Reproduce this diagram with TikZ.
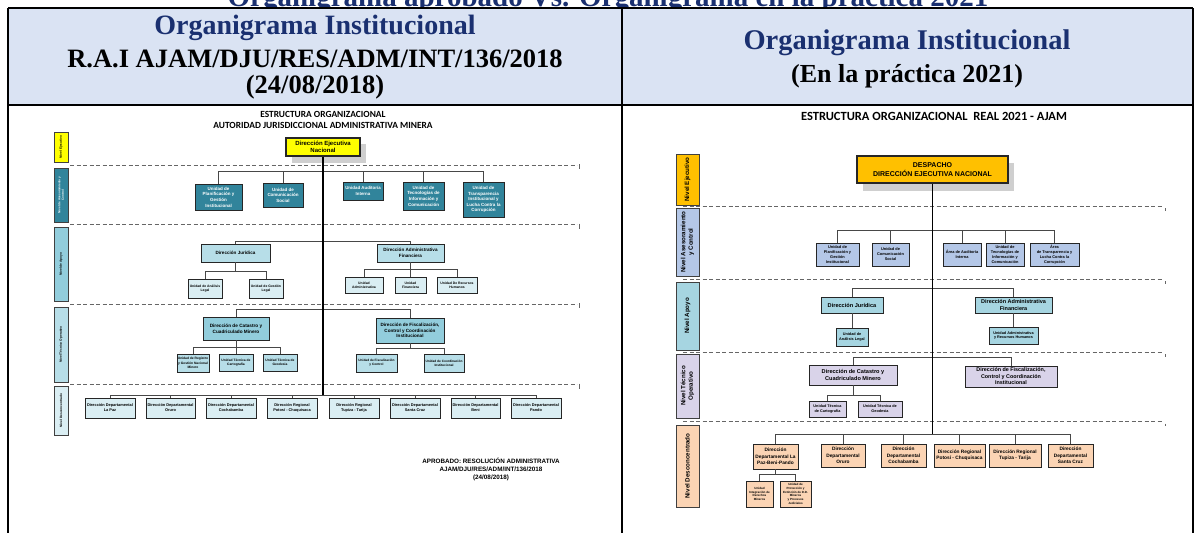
\documentclass[tikz,border=0pt]{standalone}
\usepackage{fontspec}
\setmainfont{Liberation Serif}
\newfontfamily\arialf{Liberation Sans}
\newfontfamily\calibf{Carlito}
\definecolor{hdrfill}{HTML}{DAE3F3}
\definecolor{navyt}{HTML}{1A3070}
\definecolor{lyel}{HTML}{FFFF00}
\definecolor{lteal}{HTML}{31849B}
\definecolor{lapo}{HTML}{92CDDC}
\definecolor{lapob}{HTML}{B7DEE8}
\definecolor{lsub}{HTML}{DAEEF3}
\definecolor{rorg}{HTML}{FFC000}
\definecolor{rase}{HTML}{B4C7E7}
\definecolor{rapo}{HTML}{A6D5E1}
\definecolor{rtec}{HTML}{D9D3E9}
\definecolor{rdes}{HTML}{FBD4B4}
\definecolor{shad}{HTML}{CFCFCF}
\newcommand{\fsz}[2]{\arialf\bfseries\fontsize{#1}{#2}\selectfont}
\newcommand{\bx}[7]{\node[bxb,#6,minimum width={#4-#2},minimum height={#5-#3}] (#1) at ({(#2+#4)/2},{(#3+#5)/2}) {#7};}
\newcommand{\lvbar}[7]{\node[lvb,#6,minimum width={#5-#3},minimum height={#4-#2}] (#1) at ({(#2+#4)/2},{(#3+#5)/2}) {#7};}
\tikzset{
 bxb/.style={rectangle,draw=black!85,line width=0.9pt,inner sep=0.3pt,align=center},
 lvb/.style={rectangle,draw=black!75,line width=0.8pt,inner sep=0pt,align=center,rotate=90},
 conn/.style={draw=black!72,line width=1pt},
 mainl/.style={draw=black,line width=1.6pt},
 dashl/.style={draw=black!60,line width=0.9pt,dash pattern=on 4pt off 2.5pt},
 tickm/.style={draw=black!60,line width=0.8pt},
 tbl/.style={draw=black,line width=2.4pt},
 shd/.style={fill=shad,draw=none},
}
\begin{document}
\begin{tikzpicture}[x=1pt,y=-1pt]
\useasboundingbox (0,0) rectangle (1195,533);
\clip (0,0) rectangle (1195,533);
\fill[white] (0,0) rectangle (1195,533);
% ---------- banner and header ----------
\node[anchor=base,text=navyt,font=\bfseries\fontsize{29}{32}\selectfont,inner sep=0] (banner) at (608,6) {Organigrama aprobado Vs. Organigrama en la práctica 2021};
\fill[hdrfill] (8,8) rectangle (1193,105);
\node[text=navyt,font=\bfseries\fontsize{28}{30}\selectfont] (hl1) at (315,28) {Organigrama Institucional};
\node[font=\bfseries\fontsize{26.5}{30}\selectfont] (hl2) at (315,59) {R.A.I AJAM/DJU/RES/ADM/INT/136/2018};
\node[font=\bfseries\fontsize{26.5}{30}\selectfont] (hl3) at (315,87) {(24/08/2018)};
\node[text=navyt,font=\bfseries\fontsize{28.5}{30}\selectfont] (hr1) at (907,43) {Organigrama Institucional};
\node[font=\bfseries\fontsize{26}{30}\selectfont] (hr2) at (907,76) {(En la práctica 2021)};
\draw[tbl] (8,8) -- (1193,8);
\draw[tbl] (8,105) -- (1193,105);
\draw[tbl] (8,8) -- (8,540);
\draw[tbl] (622,8) -- (622,540);
\draw[tbl] (1193,8) -- (1193,540);
% ================= LEFT CHART =================
\node[font=\calibf\bfseries\fontsize{9.4}{11}\selectfont,align=center] (lt) at (323,119.5) {ESTRUCTURA ORGANIZACIONAL\\AUTORIDAD JURISDICCIONAL ADMINISTRATIVA MINERA};
\foreach \yy in {165,224.5,304,384.5} {\draw[dashl] (70,\yy) -- (577,\yy); \draw[tickm] (579,\yy-1) -- (579,\yy+4);}
\lvbar{lv1}{54}{132}{68}{162}{fill=lyel,font=\fsz{3.2}{3.8}}{Nivel Ejecutivo}
\lvbar{lv2}{54}{168}{68}{222}{fill=lteal,text=white,font=\fsz{3}{3.6}}{Nivel de Asesoramiento y\\Control}
\lvbar{lv3}{54}{227}{68}{301}{fill=lapo,font=\fsz{3.2}{3.8}}{Nivel de Apoyo}
\lvbar{lv4}{54}{307}{68}{382}{fill=lapob,font=\fsz{3.2}{3.8}}{Nivel Técnico Operativo}
\lvbar{lv5}{54}{386}{68}{435}{fill=lsub,font=\fsz{3.2}{3.8}}{Nivel Desconcentrado}
\fill[shd] (292,144) rectangle (366,163);
\bx{dej}{286}{138}{360}{156}{fill=lyel,line width=1.2pt,font=\fsz{6}{7.5}}{Dirección Ejecutiva\\Nacional}
% asesoramiento
\bx{la1}{195}{184}{242}{210}{fill=lteal,text=white,font=\fsz{4.5}{5.6}}{Unidad de\\Planificación y\\Gestión\\Institucional}
\bx{la2}{263}{183}{303}{207}{fill=lteal,text=white,font=\fsz{4.5}{5.6}}{Unidad de\\Comunicación\\Social}
\bx{la3}{343}{182}{383}{200}{fill=lteal,text=white,font=\fsz{4.4}{5.6}}{Unidad Auditoría\\Interna}
\bx{la4}{403}{182}{444}{210}{fill=lteal,text=white,font=\fsz{4.5}{5.6}}{Unidad de\\Tecnologías de\\Información y\\Comunicación}
\bx{la5}{463}{182}{504}{217}{fill=lteal,text=white,font=\fsz{4.5}{5.6}}{Unidad de\\Transparencia\\Institucional y\\Lucha Contra la\\Corrupción}
% apoyo
\bx{lj}{201}{244}{270}{262}{fill=lapob,font=\fsz{4.6}{5.8}}{Dirección Jurídica}
\bx{lf}{377}{244}{444}{262}{fill=lapob,font=\fsz{4.6}{5.8}}{Dirección Administrativa\\Financiera}
\bx{lj1}{188}{279}{222}{298}{fill=lsub,font=\fsz{3.4}{4.3}}{Unidad de Análisis\\Legal}
\bx{lj2}{249}{279}{283}{298}{fill=lsub,font=\fsz{3.4}{4.3}}{Unidad de Gestión\\Legal}
\bx{lf1}{345}{277}{383}{293}{fill=lsub,font=\fsz{3.4}{4.3}}{Unidad\\Administrativa}
\bx{lf2}{395}{277}{426}{293}{fill=lsub,font=\fsz{3.4}{4.3}}{Unidad\\Financiera}
\bx{lf3}{437}{277}{477}{293}{fill=lsub,font=\fsz{3.4}{4.3}}{Unidad De Recursos\\Humanos}
% tecnico operativo
\bx{lc}{203}{317}{269}{340}{fill=lapo,font=\fsz{4.7}{5.8}}{Dirección de Catastro y\\Cuadriculado Minero}
\bx{lfi}{376}{318}{444}{343}{fill=lapo,font=\fsz{4.6}{5.8}}{Dirección de Fiscalización,\\Control y Coordinación\\Institucional}
\bx{lc1}{177}{354}{209}{372}{fill=lapob,font=\fsz{3.3}{4.2}}{Unidad de Registro\\y Gestión Nacional\\Minero}
\bx{lc2}{219}{354}{253}{371}{fill=lapob,font=\fsz{3.3}{4.2}}{Unidad Técnica de\\Cartografía}
\bx{lc3}{263}{354}{297}{371}{fill=lapob,font=\fsz{3.3}{4.2}}{Unidad Técnica de\\Geodesia}
\bx{lfi1}{356}{354}{397}{372}{fill=lapob,font=\fsz{3.2}{4.2}}{Unidad de Fiscalización\\y Control}
\bx{lfi2}{424}{354}{464}{372}{fill=lapob,font=\fsz{3.2}{4.2}}{Unidad de Coordinación\\Institucional}
% desconcentrado
\bx{ld1}{85}{398}{135}{418}{fill=lsub,font=\fsz{3.9}{5}}{Dirección Departamental\\La Paz}
\bx{ld2}{146}{398}{195}{418}{fill=lsub,font=\fsz{3.9}{5}}{Dirección Departamental\\Oruro}
\bx{ld3}{206}{398}{256}{418}{fill=lsub,font=\fsz{3.9}{5}}{Dirección Departamental\\Cochabamba}
\bx{ld4}{267}{398}{317}{418}{fill=lsub,font=\fsz{3.9}{5}}{Dirección Regional\\Potosí - Chuquisaca}
\bx{ld5}{329}{398}{379}{418}{fill=lsub,font=\fsz{3.9}{5}}{Dirección Regional\\Tupiza - Tarija}
\bx{ld6}{390}{398}{440}{418}{fill=lsub,font=\fsz{3.9}{5}}{Dirección Departamental\\Santa Cruz}
\bx{ld7}{451}{398}{500}{418}{fill=lsub,font=\fsz{3.9}{5}}{Dirección Departamental\\Beni}
\bx{ld8}{511}{398}{561}{418}{fill=lsub,font=\fsz{3.9}{5}}{Dirección Departamental\\Pando}
\node[font=\fsz{6.3}{8},align=center] (lfoot) at (491,469) {APROBADO: RESOLUCIÓN ADMINISTRATIVA\\AJAM/DJU/RES/ADM/INT/136/2018\\(24/08/2018)};
% left connectors
\coordinate (lbA) at (0,171);
\coordinate (lbB) at (0,241);
\coordinate (lbBj) at (0,271);
\coordinate (lbBf) at (0,269);
\coordinate (lbC) at (0,309);
\coordinate (lbCc) at (0,347);
\coordinate (lbCf) at (0,348);
\coordinate (lbD) at (0,395);
\draw[conn] (la1.north) |- (la5.north |- lbA) -- (la5.north);
\foreach \n in {la2,la3,la4} {\draw[conn] (\n.north) -- (\n.north |- lbA);}
\draw[conn] (lj.north) |- (lf.north |- lbB) -- (lf.north);
\draw[conn] (lj.south) -- (lj.south |- lbBj);
\draw[conn] (lj1.north) |- (lj2.north |- lbBj) -- (lj2.north);
\draw[conn] (lf.south) -- (lf.south |- lbBf);
\draw[conn] (lf1.north) |- (lf3.north |- lbBf) -- (lf3.north);
\draw[conn] (lf2.north) -- (lf2.north |- lbBf);
\draw[conn] (lc.north) |- (lfi.north |- lbC) -- (lfi.north);
\draw[conn] (lc.south) -- (lc.south |- lbCc);
\draw[conn] (lc1.north) |- (lc3.north |- lbCc) -- (lc3.north);
\draw[conn] (lc2.north) -- (lc2.north |- lbCc);
\draw[conn] (lfi.south) -- (lfi.south |- lbCf);
\draw[conn] (lfi1.north) |- (lfi2.north |- lbCf) -- (lfi2.north);
\draw[conn] (ld1.north) |- (ld8.north |- lbD) -- (ld8.north);
\foreach \n in {ld2,ld3,ld4,ld5,ld6,ld7} {\draw[conn] (\n.north) -- (\n.north |- lbD);}
\draw[mainl] (dej.south) -- (dej.south |- lbD);
% ================= RIGHT CHART =================
\node[font=\calibf\bfseries\fontsize{12.5}{14}\selectfont] (rt) at (934,116) {ESTRUCTURA ORGANIZACIONAL\ \ REAL 2021 - AJAM};
\foreach \yy in {206,279,352,421.5} {\draw[dashl] (683,\yy) -- (1163,\yy); \draw[tickm] (1165,\yy+2) -- (1165,\yy+4.5);}
\lvbar{rv1}{676}{154}{699}{205}{fill=rorg,font=\fsz{6.2}{7.5}}{Nivel Ejecutivo}
\lvbar{rv2}{676}{208}{699}{276}{fill=rase,font=\fsz{6.2}{7.5}}{Nivel Asesoramiento\\y Control}
\lvbar{rv3}{676}{282}{699}{350}{fill=rapo,font=\fsz{6.2}{7.5}}{Nivel Apoyo}
\lvbar{rv4}{676}{354}{699}{418}{fill=rtec,font=\fsz{6.2}{7.5}}{Nivel Técnico\\Operativo}
\lvbar{rv5}{676}{425}{699}{507}{fill=rdes,font=\fsz{6.2}{7.5}}{Nivel Desconcentrado}
\fill[shd] (863,163) rectangle (1014,191);
\bx{desp}{857}{156}{1008}{183}{fill=rorg,line width=1.5pt,font=\fsz{7}{8.5}}{DESPACHO\\DIRECCIÓN EJECUTIVA NACIONAL}
\bx{ra1}{816}{243}{859}{266}{fill=rase,font=\fsz{3.9}{4.9}}{Unidad de\\Planificación y\\Gestión\\Institucional}
\bx{ra2}{872}{243}{909}{266}{fill=rase,font=\fsz{3.9}{4.9}}{Unidad de\\Comunicación\\Social}
\bx{ra3}{943}{243}{981}{266}{fill=rase,font=\fsz{3.9}{4.9}}{Área de Auditoría\\Interna}
\bx{ra4}{986}{243}{1024}{266}{fill=rase,font=\fsz{3.9}{4.9}}{Unidad de\\Tecnologías de\\Información y\\Comunicación}
\bx{ra5}{1030}{243}{1079}{266}{fill=rase,font=\fsz{3.9}{4.9}}{Área\\de Transparencia y\\Lucha Contra la\\Corrupción}
\bx{rj}{821}{297}{883}{313}{fill=rapo,font=\fsz{5.6}{7}}{Dirección Jurídica}
\bx{rf}{975}{297}{1052}{313}{fill=rapo,font=\fsz{5.5}{7}}{Dirección Administrativa\\Financiera}
\bx{rj1}{836}{328}{868}{346}{fill=rapo,font=\fsz{3.8}{4.8}}{Unidad de\\Análisis Legal}
\bx{rf1}{989}{327}{1038}{344}{fill=rapo,font=\fsz{3.8}{4.8}}{Unidad Administrativa\\y Recursos Humanos}
\bx{rc}{809}{365}{897}{385}{fill=rtec,font=\fsz{5.6}{7}}{Dirección de Catastro y\\Cuadriculado Minero}
\bx{rfi}{965}{366}{1057}{387}{fill=rtec,font=\fsz{5.4}{6.5}}{Dirección de Fiscalización,\\Control y Coordinación\\Institucional}
\bx{rc1}{809}{401}{846}{417}{fill=rtec,font=\fsz{3.8}{4.8}}{Unidad Técnica\\de Cartografía}
\bx{rc2}{858}{401}{902}{417}{fill=rtec,font=\fsz{3.8}{4.8}}{Unidad Técnica de\\Geodesia}
\bx{rd1}{753}{444}{798}{469}{fill=rdes,font=\fsz{4.8}{6.3}}{Dirección\\Departamental La\\Paz-Beni-Pando}
\bx{rd2}{821}{444}{865}{467}{fill=rdes,font=\fsz{4.8}{6.3}}{Dirección\\Departamental\\Oruro}
\bx{rd3}{881}{444}{926}{467}{fill=rdes,font=\fsz{4.8}{6.3}}{Dirección\\Departamental\\Cochabamba}
\bx{rd4}{934}{444}{985}{467}{fill=rdes,font=\fsz{4.8}{6.3}}{Dirección Regional\\Potosí - Chuquisaca}
\bx{rd5}{989}{444}{1041}{467}{fill=rdes,font=\fsz{4.8}{6.3}}{Dirección Regional\\Tupiza - Tarija}
\bx{rd6}{1048}{444}{1093}{467}{fill=rdes,font=\fsz{4.8}{6.3}}{Dirección\\Departamental\\Santa Cruz}
\bx{rd1a}{746}{481}{773}{507}{fill=rdes,font=\fsz{3}{3.8}}{Unidad\\Integración de\\Derechos\\Mineros}
\bx{rd1b}{780}{481}{811}{507}{fill=rdes,font=\fsz{3}{3.8}}{Unidad de\\Protección y\\Extinción de D.D.\\Mineros\\y Procesos\\Judiciales}
% right connectors
\coordinate (rbA) at (0,230);
\coordinate (rbB) at (0,288);
\coordinate (rbC) at (0,357);
\coordinate (rbCc) at (0,395);
\coordinate (rbD) at (0,434);
\coordinate (rbDd) at (0,474);
\draw[conn] (ra1.north) |- (ra5.north |- rbA) -- (ra5.north);
\foreach \n in {ra2,ra3,ra4} {\draw[conn] (\n.north) -- (\n.north |- rbA);}
\draw[conn] (rj.north) |- (rf.north |- rbB) -- (rf.north);
\draw[conn] (rj.south) -- (rj1.north);
\draw[conn] (rf.south) -- (rf1.north);
\draw[conn] (rc.north) |- (rfi.north |- rbC) -- (rfi.north);
\draw[conn] (rc.south) -- (rc.south |- rbCc);
\draw[conn] (rc1.north) |- (rc2.north |- rbCc) -- (rc2.north);
\draw[conn] (rd1.north) |- (rd6.north |- rbD) -- (rd6.north);
\foreach \n in {rd2,rd3,rd4,rd5} {\draw[conn] (\n.north) -- (\n.north |- rbD);}
\draw[conn] (rd1.south) -- (rd1.south |- rbDd);
\draw[conn] (rd1a.north) |- (rd1b.north |- rbDd) -- (rd1b.north);
\draw[mainl] (desp.south) -- (desp.south |- rbD);
\end{tikzpicture}
\end{document}
